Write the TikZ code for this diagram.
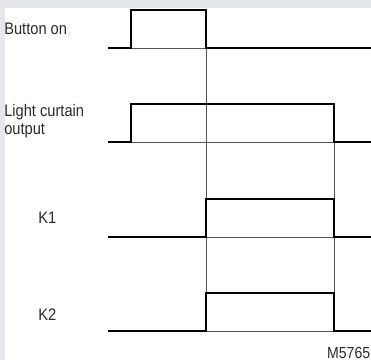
\documentclass[tikz,border=0pt]{standalone}
\usepackage{fontspec}
\setmainfont[FakeStretch=0.88]{Liberation Sans}
\definecolor{panelgray}{HTML}{E6E7E9}
\definecolor{guidegray}{HTML}{555555}
\definecolor{labelgray}{HTML}{2B2B2B}
\tikzset{
  signal/.style={line width=1.35pt, black, line join=miter},
  guide/.style={line width=0.55pt, guidegray},
  siglabel/.style={inner sep=0pt, text=labelgray, font=\fontsize{12.5}{12.2}\selectfont},
}
\begin{document}
\begin{tikzpicture}[x=0.75pt, y=-0.75pt]
      \useasboundingbox (0,0) rectangle (371,360);
      \fill[panelgray] (0,0) rectangle (371,360);
      \fill[white] (4.5,8) rectangle (371,360);
      % thin guides
      \draw[guide] (131,48) -- (206,48);
      \draw[guide] (131,142) -- (334,142);
      \draw[guide] (206,237) -- (334,237);
      \draw[guide] (206,331) -- (334,331);
      \draw[guide] (206,48) -- (206,331);
      \draw[guide] (334,104) -- (334,331);
      % waveforms
      \draw[signal] (108,48) -- (131,48) -- (131,10) -- (206,10) -- (206,48) -- (371,48);
      \draw[signal] (108,142) -- (131,142) -- (131,104) -- (334,104) -- (334,142) -- (371,142);
      \foreach \lo/\hi in {237/199, 331/293}
        \draw[signal] (108,\lo) -- (206,\lo) -- (206,\hi) -- (334,\hi) -- (334,\lo) -- (371,\lo);
      % labels
      \node[siglabel, anchor=base west] (button) at (4,35) {Button on};
      \node[siglabel, anchor=north west, align=left] (curtain) at (4,104.3) {Light curtain\\[1.5pt]output};
      \node[siglabel, anchor=base west] (k1) at (38,223) {K1};
      \node[siglabel, anchor=base west] (k2) at (38,320) {K2};
      \node[siglabel, anchor=base east, font=\fontsize{12}{12}\selectfont] (code) at (370.5,358) {M5765};
    \end{tikzpicture}
\end{document}
